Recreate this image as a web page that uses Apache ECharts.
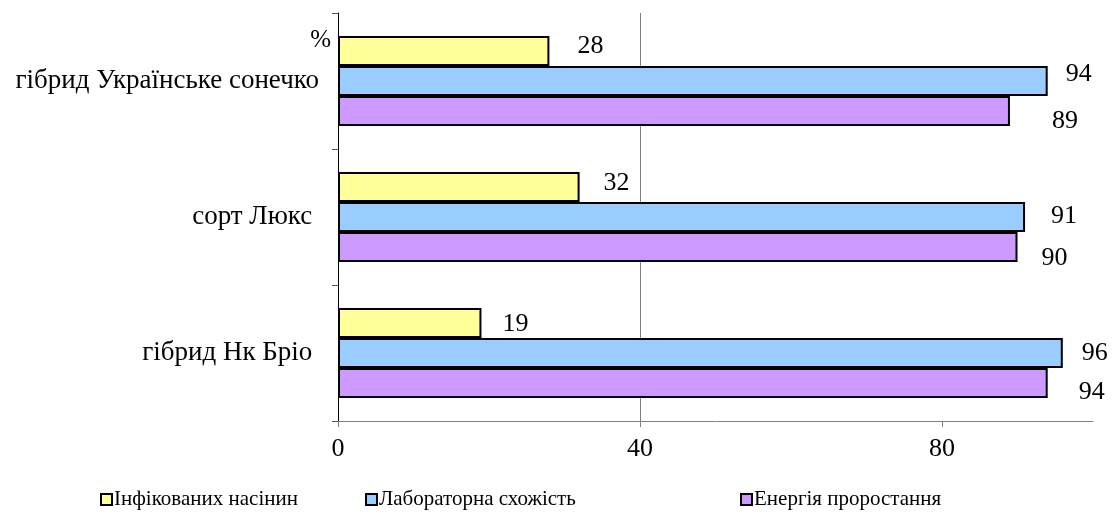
<!DOCTYPE html>
<html>
<head>
<meta charset="utf-8">
<script src="https://cdn.jsdelivr.net/npm/echarts@6/dist/echarts.min.js"></script>
<style>
  html, body { margin: 0; padding: 0; background: #fff; }
  #barChart { width: 1113px; height: 525px; }
</style>
</head>
<body>
<div id="barChart"></div>
<script>
var categories = ['гібрид Українське сонечко', 'сорт Люкс ', 'гібрид Нк Бріо '];
var seriesNames = ['Інфікованих насінин', 'Лабораторна схожість', 'Енергія проростання'];
var infected = [28, 32, 19];
var labGermination = [94, 91, 96];
var germEnergy = [89, 90, 94];
var xTicks = [0, 40, 80];

var colors = ['#FFFF99', '#99CCFF', '#CC99FF'];
// label nudges (dx, dy) so the numbers sit roughly where the original put them
var nudges = [
    [[28, -5], [24, -4], [21, 1]],
    [[18, -7], [26, -1], [19, 0]],
    [[42, 10], [24, 11], [31, 9]]
];
var font = '"Liberation Serif", "Times New Roman", serif';

function makeSeries(idx, values) {
    return {
        name: seriesNames[idx],
        type: 'bar',
        barWidth: 30,
        barGap: '0%',
        itemStyle: { color: colors[idx], borderColor: '#000', borderWidth: 2 },
        label: { show: true, position: 'right', distance: 0, color: '#000', fontFamily: font, fontSize: 26 },
        data: values.map(function (v, i) {
            return { value: v, label: { offset: nudges[idx][i] } };
        })
    };
}

function makeLegend(idx, left) {
    return {
        data: [seriesNames[idx]],
        left: left,
        top: 484,
        itemWidth: 11,
        itemHeight: 11,
        itemStyle: { borderColor: '#000', borderWidth: 2 },
        textStyle: { fontFamily: font, fontSize: 21, color: '#000', padding: [0, 0, 0, -3] },
        icon: 'rect'
    };
}

var myChart = echarts.init(document.getElementById('barChart'));
var option = {
    animation: false,
    backgroundColor: '#fff',
    legend: [makeLegend(0, 95), makeLegend(1, 360), makeLegend(2, 735)],
    grid: { left: 338, right: 20, top: 13, bottom: 104, containLabel: false },
    xAxis: {
        type: 'value',
        min: 0,
        max: 100,
        interval: 40,
        axisLine: { show: true, lineStyle: { color: '#808080', width: 1 } },
        axisTick: { show: true, length: 6, customValues: xTicks, lineStyle: { color: '#808080' } },
        axisLabel: { customValues: xTicks, margin: 15, color: '#000', fontFamily: font, fontSize: 26 },
        splitLine: { show: true, showMinLine: false, showMaxLine: false, lineStyle: { color: '#808080', width: 1 } }
    },
    yAxis: {
        type: 'category',
        inverse: true,
        data: categories,
        axisLine: { show: true, lineStyle: { color: '#000', width: 1 } },
        axisTick: { show: true, length: 6, lineStyle: { color: '#555' } },
        axisLabel: { margin: 19, color: '#000', fontFamily: font, fontSize: 27 }
    },
    graphic: [{
        type: 'text',
        right: 1113 - 331,
        top: 28,
        style: { text: '%', fill: '#000', font: '25px ' + font }
    }],
    series: [
        makeSeries(0, infected),
        makeSeries(1, labGermination),
        makeSeries(2, germEnergy)
    ]
};
myChart.setOption(option);
</script>
</body>
</html>
